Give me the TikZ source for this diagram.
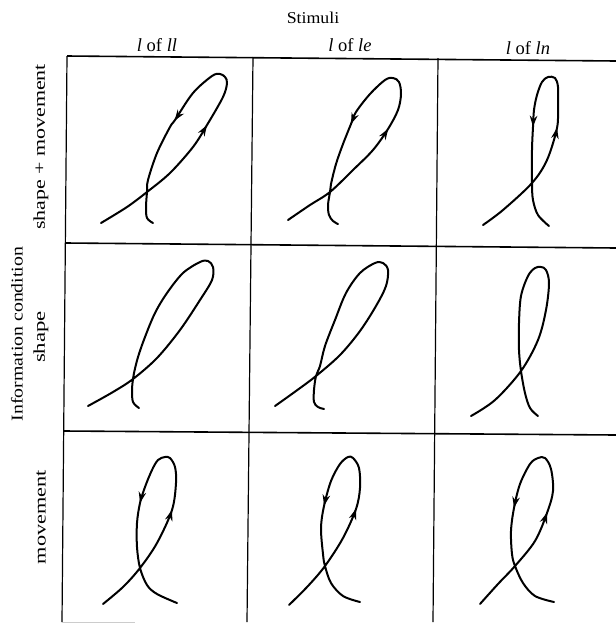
\documentclass[tikz,border=0pt]{standalone}
\usepackage{fontspec}
\setmainfont{Liberation Serif}
\usetikzlibrary{arrows.meta,decorations.markings}

\begin{document}
\begin{tikzpicture}[x=1pt,y=-1pt,
    hrule/.style={line width=1.6pt},
    vrule/.style={line width=1.2pt},
    lstroke/.style={line width=2pt,line cap=round,line join=round},
    arrowed/.style 2 args={lstroke,postaction={decorate},
      decoration={markings,
        mark=at position #1 with {\arrow{Stealth[length=11pt,width=7.5pt]}},
        mark=at position #2 with {\arrow{Stealth[length=11pt,width=7.5pt]}}}},
    lbl/.style={font=\fontsize{16.5}{18}\selectfont,inner sep=0pt},
    head/.style={font=\fontsize{18.5}{20}\selectfont,inner sep=0pt,anchor=base}]
  \useasboundingbox (0,0) rectangle (616,625);

  % frame of the table
  \draw[hrule] (67,56) -- (616,61);
  \draw[hrule] (66,243) -- (616,248);
  \draw[hrule] (64,431) -- (616,435);
  \draw[vrule] (67,56) -- (62,622);
  \draw[vrule] (253,57) -- (247,622);
  \draw[vrule] (438,58) -- (433,622);
  \draw[gray!40,line width=0.6pt] (62,622) -- (135,622);

  % headings
  \node[lbl] (stim) at (313,18) {\scalebox{1.08}[1]{Stimuli}};
  \node[head] (colll) at (157,51) {\textit{l} of \textit{ll}};
  \node[head] (colle) at (350,51) {\textit{l} of \textit{le}};
  \node[head] (colln) at (528,54) {\textit{l} of \textit{ln}};
  \node[lbl,rotate=90] (info) at (17,334) {\scalebox{1.2}[1]{Information condition}};
  \node[lbl,rotate=90] (rowsm) at (41,147) {\scalebox{1.33}[1]{shape + movement}};
  \node[lbl,rotate=90] (rows) at (41,337) {\scalebox{1.38}[1]{shape}};
  \node[lbl,rotate=90] (rowm) at (41,517) {\scalebox{1.35}[1]{movement}};

  % shape + movement
  \draw[arrowed={0.38}{0.71}] plot[smooth,tension=0.55] coordinates {
    (101,223) (127,207) (147,192) (170,173) (193,147) (207,125) (223,97)
    (227,83) (225,77) (220,74) (212,76) (193,93) (175,120) (170,127)
    (157,153) (148,180) (147,192) (146,207) (147,218) (153,223)};
  \draw[arrowed={0.373}{0.706}] plot[smooth,tension=0.55] coordinates {
    (288,220) (310,205) (330,192) (353,170) (373,150) (388,129) (398,110)
    (401,94) (399,82) (393,78) (385,80) (370,94) (356,112) (351,124)
    (343,144) (336,164) (331,184) (330,192) (328,205) (329,215) (333,221) (338,224)};
  \draw[arrowed={0.368}{0.694}] plot[smooth,tension=0.55] coordinates {
    (483,225) (503,210) (532,183) (547,160) (557,128) (558,107) (558,87)
    (555,78) (548,77) (542,82) (537,95) (534,110) (533,127) (532,150)
    (532,183) (533,200) (538,215) (549,226)};

  % shape
  \draw[lstroke] plot[smooth,tension=0.55] coordinates {
    (88,406) (113,392) (133,379) (157,358) (180,330) (200,300) (212,280)
    (213,267) (208,261) (200,262) (183,273) (167,293) (155,313) (145,337)
    (138,357) (134,373) (133,379) (132,390) (133,402) (139,408)};
  \draw[lstroke] plot[smooth,tension=0.55] coordinates {
    (275,406) (296,391) (316,376) (340,355) (360,331) (376,306) (386,286)
    (388,270) (383,263) (375,263) (360,273) (346,293) (335,320) (325,346)
    (320,366) (316,376) (314,390) (314,402) (318,407) (324,409)};
  \draw[lstroke] plot[smooth,tension=0.55] coordinates {
    (471,416) (495,400) (521,371) (538,340) (546,310) (549,283) (546,270)
    (541,267) (535,268) (528,276) (521,296) (519,323) (519,350) (521,371)
    (525,393) (530,408) (538,416)};

  % movement
  \draw[arrowed={0.337}{0.66}] plot[smooth,tension=0.55] coordinates {
    (103,604) (123,587) (140,568) (157,543) (172,510) (176,483) (175,467)
    (170,458) (165,457) (158,460) (152,470) (145,487) (140,503) (137,523)
    (137,547) (140,568) (147,585) (157,594) (177,603)};
  \draw[arrowed={0.341}{0.67}] plot[smooth,tension=0.55] coordinates {
    (289,605) (308,586) (325,566) (343,538) (356,509) (360,488) (359,468)
    (353,458) (348,457) (340,464) (331,481) (324,506) (321,528) (323,554)
    (325,566) (331,583) (343,596) (360,602)};
  \draw[arrowed={0.326}{0.672}] plot[smooth,tension=0.55] coordinates {
    (480,604) (498,584) (515,566) (535,541) (547,513) (553,491) (551,469)
    (545,458) (538,458) (530,464) (520,484) (514,508) (511,531) (512,554)
    (515,566) (523,583) (535,596) (554,602)};
\end{tikzpicture}
\end{document}
